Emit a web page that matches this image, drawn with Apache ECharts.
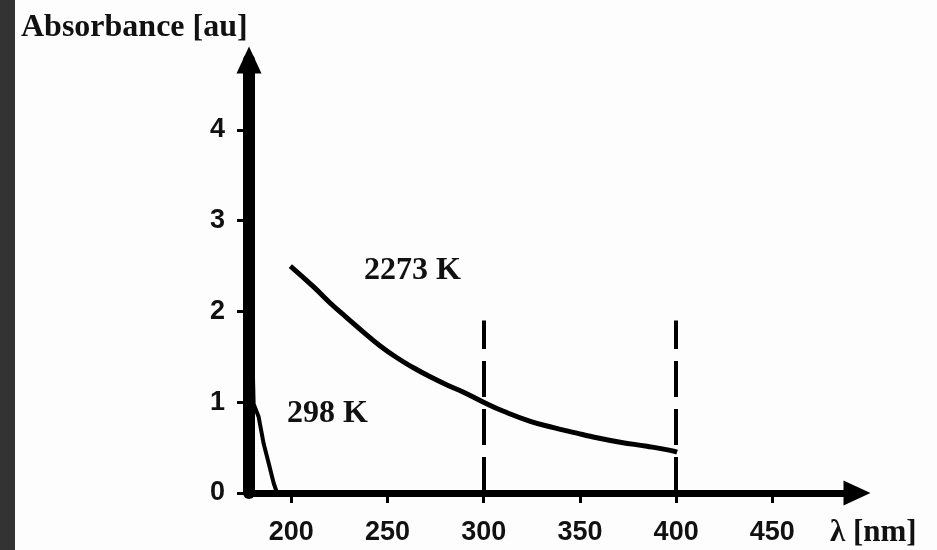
<!DOCTYPE html>
<html>
<head>
<meta charset="utf-8">
<script src="https://cdn.jsdelivr.net/npm/echarts@6/dist/echarts.min.js"></script>
<style>
  html, body { margin: 0; padding: 0; background: #fdfdfd; }
  #chart { width: 937px; height: 550px; }
</style>
</head>
<body>
<div id="chart"></div>
<script>
// Tick positions on both axes
const wavelengthTicks = [200, 250, 300, 350, 400, 450];
const absorbanceTicks = [0, 1, 2, 3, 4];

// Spectrum recorded at 2273 K
const hotWavelength = [199.5, 211.6, 220.3, 228.9, 237.6, 246.2, 254.9, 263.5, 272.2, 280.9, 289.5, 299.9, 310.3, 324.2, 336.3, 348.4, 355.3, 370.9, 384.8, 396.9, 400.5];
const hotAbsorbance = [2.50, 2.27, 2.09, 1.93, 1.77, 1.62, 1.49, 1.38, 1.28, 1.19, 1.11, 1.00, 0.90, 0.79, 0.72, 0.66, 0.625, 0.56, 0.515, 0.47, 0.45];

// Spectrum recorded at 298 K
const roomWavelength = [179.5, 180.4, 183.0, 185.6, 188.2, 190.8, 192.6, 220, 300, 400, 480];
const roomAbsorbance = [1.8, 0.98, 0.84, 0.545, 0.33, 0.11, 0, 0, 0, 0, 0];

// Dashed markers at 300 nm and 400 nm
const markerWavelengths = [300, 400];
const markerTop = 1.9;

// Curve labels and axis captions
const hotLabel = '2273 K';
const roomLabel = '298 K';
const yCaption = 'Absorbance [au]';
const xCaption = 'λ [nm]';

const zip = (xs, ys) => xs.map((x, i) => [x, ys[i]]);

const serifBold = { fontFamily: "'Liberation Serif', 'Times New Roman', serif", fontWeight: 'bold', fontSize: 32, color: '#111' };
const tickFont = { fontFamily: "'Liberation Sans', Arial, sans-serif", fontWeight: 'bold', fontSize: 27, color: '#111' };

const chart = echarts.init(document.getElementById('chart'), null, { renderer: 'canvas' });

chart.setOption({
  animation: false,
  backgroundColor: '#fdfdfd',
  title: [
    { text: yCaption, left: 16, top: 7, textStyle: serifBold },
    { text: hotLabel, left: 359, top: 250, textStyle: serifBold },
    { text: roomLabel, left: 282, top: 393, textStyle: serifBold },
    { text: xCaption, left: 825, top: 512, textStyle: Object.assign({}, serifBold, { fontSize: 31 }) }
  ],
  graphic: [
    { type: 'rect', left: 0, top: 0, shape: { width: 15, height: 550 }, style: { fill: '#333' }, z: 100 }
  ],
  grid: { left: 249, right: 80, top: 60, bottom: 57 },
  xAxis: {
    type: 'value',
    min: 178,
    max: 494,
    interval: 50,
    splitLine: { show: false },
    axisLine: {
      onZero: false,
      symbol: ['none', 'triangle'],
      symbolSize: [25, 27],
      lineStyle: { color: '#000', width: 7 }
    },
    axisTick: { show: true, length: 10, customValues: wavelengthTicks, lineStyle: { color: '#000', width: 3 } },
    axisLabel: {
      customValues: wavelengthTicks,
      margin: 26,
      formatter: v => (wavelengthTicks.includes(v) ? String(v) : ''),
      ...tickFont
    }
  },
  yAxis: {
    type: 'value',
    min: 0,
    max: 4.77,
    interval: 1,
    splitLine: { show: false },
    axisLine: {
      onZero: false,
      symbol: ['none', 'triangle'],
      symbolSize: [25, 27],
      lineStyle: { color: '#000', width: 12 }
    },
    axisTick: { show: true, length: 12, customValues: absorbanceTicks, lineStyle: { color: '#000', width: 3 } },
    axisLabel: {
      customValues: absorbanceTicks,
      margin: 24,
      formatter: v => (absorbanceTicks.includes(v) ? String(v) : ''),
      ...tickFont
    }
  },
  series: [
    {
      name: hotLabel,
      type: 'line',
      data: zip(hotWavelength, hotAbsorbance),
      smooth: 0.5,
      symbol: 'none',
      lineStyle: { color: '#000', width: 5 },
      markLine: {
        silent: true,
        symbol: ['none', 'none'],
        label: { show: false },
        lineStyle: { color: '#000', width: 4, type: [36, 12] },
        data: markerWavelengths.map(w => [{ coord: [w, 0] }, { coord: [w, markerTop] }])
      },
      z: 3
    },
    {
      name: roomLabel,
      type: 'line',
      data: zip(roomWavelength, roomAbsorbance),
      smooth: false,
      symbol: 'none',
      lineStyle: { color: '#000', width: 4 },
      z: 3
    }
  ]
});
</script>
</body>
</html>
